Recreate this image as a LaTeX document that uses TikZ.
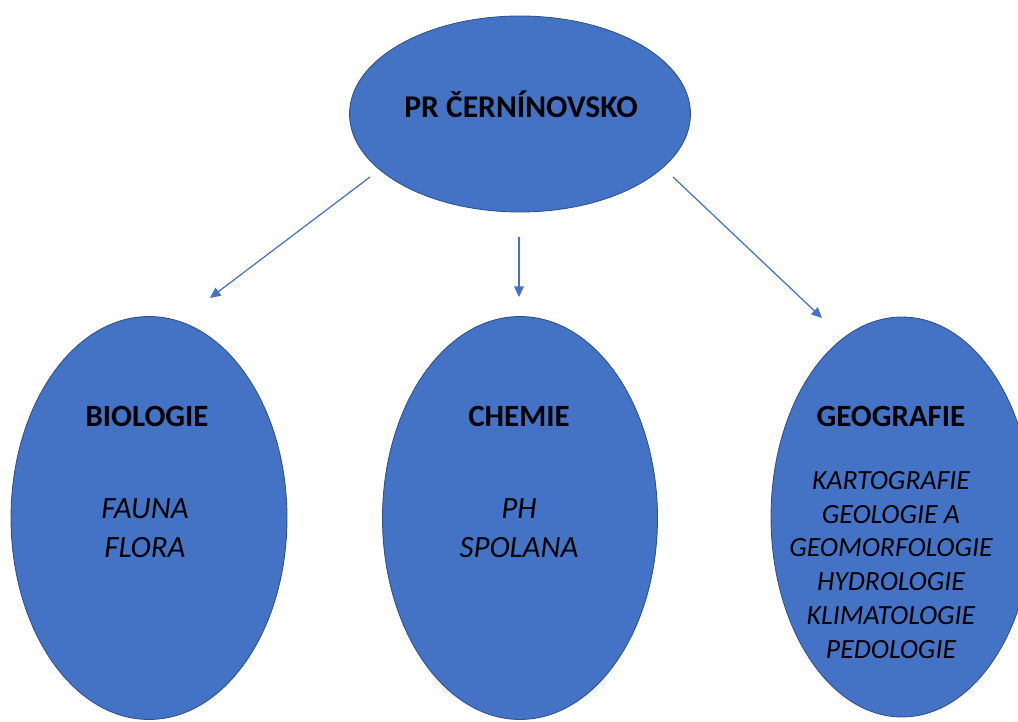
\documentclass[tikz,border=0pt]{standalone}
\usepackage{fontspec}
\setmainfont{Carlito}
\usetikzlibrary{arrows.meta, shapes.geometric}

\definecolor{ovalblue}{HTML}{4472C4}
\definecolor{ovalline}{HTML}{2F528F}

\tikzset{
  oval/.style={ellipse, draw=ovalline, line width=0.5pt, fill=ovalblue, inner sep=0pt},
  head/.style={font=\fontsize{17.6}{20}\selectfont\bfseries, text=black},
  items/.style={font=\fontsize{17.6}{22}\selectfont\itshape, align=center, text=black},
  link/.style={->, draw=ovalblue, line width=0.7pt}
}

\begin{document}
\begin{tikzpicture}[x=0.02cm, y=-0.02cm, >={Triangle[length=6pt, width=5.5pt]}]
\clip (0,0) rectangle (1018,722);

% top oval
\node[oval, minimum width=6.82cm, minimum height=3.92cm] (park) at (520,114) {};
\node[head, font=\fontsize{18}{20}\selectfont\bfseries] (parkT) at (521,104) {PR ČERNÍNOVSKO};

% three subject ovals
\node[oval, minimum width=5.52cm, minimum height=8.06cm] (bio) at (149,518) {};
\node[oval, minimum width=5.5cm, minimum height=8.06cm] (chem) at (520,518) {};
\node[oval, minimum width=5.24cm, minimum height=8.0cm] (geo) at (902,517) {};

\node[head] (bioT) at (147,416) {BIOLOGIE};
\node[head] (chemT) at (519,416) {CHEMIE};
\node[head] (geoT) at (891,416) {GEOGRAFIE};

\node[items] (bioL) at (145,528) {FAUNA\\FLORA};
\node[items] (chemL) at (519,528) {PH\\SPOLANA};
\node[items, font=\fontsize{15.8}{19.3}\selectfont\itshape] (geoL) at (891,565)
  {KARTOGRAFIE\\GEOLOGIE A\\GEOMORFOLOGIE\\HYDROLOGIE\\KLIMATOLOGIE\\PEDOLOGIE};

% arrow ends
\coordinate (s1) at (370,177);
\coordinate (e1) at (210,298);
\coordinate (s2) at (519,237);
\coordinate (e2) at (519,297);
\coordinate (s3) at (673,177);
\coordinate (e3) at (822,318);

\foreach \i in {1,2,3}{
  \draw[link] (s\i) -- (e\i);
}

\end{tikzpicture}
\end{document}
